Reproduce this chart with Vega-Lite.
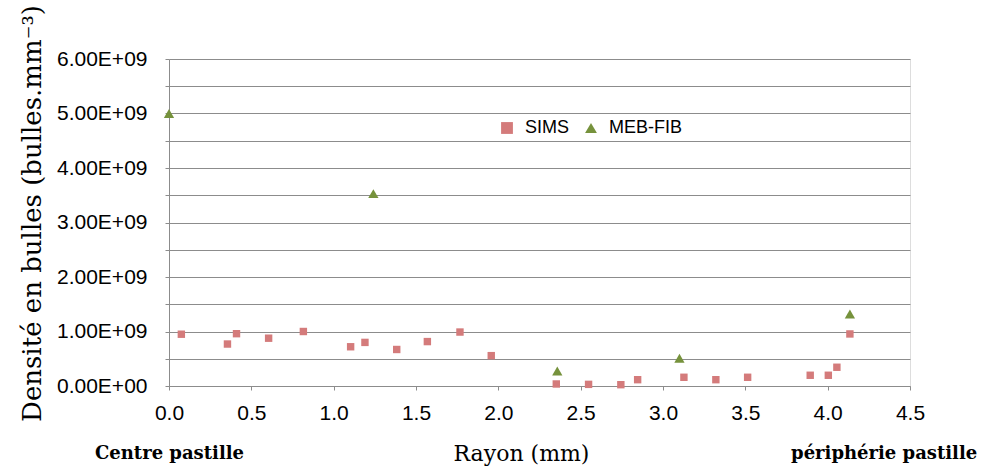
{
  "$schema": "https://vega.github.io/schema/vega-lite/v6.json",
  "width": 741,
  "height": 327,
  "autosize": {"type": "none"},
  "padding": {"left": 169, "top": 59, "right": 85, "bottom": 84},
  "background": "white",
  "data": {
    "values": [
      {"r": 0.075, "density": 0.95e9, "series": "SIMS"},
      {"r": 0.355, "density": 0.77e9, "series": "SIMS"},
      {"r": 0.41, "density": 0.96e9, "series": "SIMS"},
      {"r": 0.605, "density": 0.877e9, "series": "SIMS"},
      {"r": 0.816, "density": 1.0e9, "series": "SIMS"},
      {"r": 1.103, "density": 0.72e9, "series": "SIMS"},
      {"r": 1.19, "density": 0.80e9, "series": "SIMS"},
      {"r": 1.383, "density": 0.67e9, "series": "SIMS"},
      {"r": 1.569, "density": 0.815e9, "series": "SIMS"},
      {"r": 1.767, "density": 0.99e9, "series": "SIMS"},
      {"r": 1.957, "density": 0.557e9, "series": "SIMS"},
      {"r": 2.352, "density": 0.037e9, "series": "SIMS"},
      {"r": 2.548, "density": 0.03e9, "series": "SIMS"},
      {"r": 2.744, "density": 0.024e9, "series": "SIMS"},
      {"r": 2.846, "density": 0.116e9, "series": "SIMS"},
      {"r": 3.127, "density": 0.16e9, "series": "SIMS"},
      {"r": 3.321, "density": 0.116e9, "series": "SIMS"},
      {"r": 3.514, "density": 0.16e9, "series": "SIMS"},
      {"r": 3.894, "density": 0.197e9, "series": "SIMS"},
      {"r": 4.004, "density": 0.197e9, "series": "SIMS"},
      {"r": 4.056, "density": 0.344e9, "series": "SIMS"},
      {"r": 4.135, "density": 0.955e9, "series": "SIMS"},
      {"r": 0.0, "density": 5.0e9, "series": "MEB-FIB"},
      {"r": 1.241, "density": 3.53e9, "series": "MEB-FIB"},
      {"r": 2.358, "density": 0.276e9, "series": "MEB-FIB"},
      {"r": 3.10, "density": 0.51e9, "series": "MEB-FIB"},
      {"r": 4.135, "density": 1.32e9, "series": "MEB-FIB"}
    ]
  },
  "resolve": {"axis": {"x": "independent"}},
  "encoding": {
    "y": {
      "field": "density", "type": "quantitative",
      "scale": {"domain": [0, 6e9], "nice": false},
      "axis": {
        "values": [0, 5e8, 1e9, 1.5e9, 2e9, 2.5e9, 3e9, 3.5e9, 4e9, 4.5e9, 5e9, 5.5e9, 6e9],
        "labelExpr": "datum.value == 0 ? '0.00E+00' : (datum.value % 1e9 == 0 ? format(datum.value / 1e9, '.2f') + 'E+09' : '')",
        "grid": true, "gridColor": "#8c8c8c", "gridWidth": 1,
        "domain": true, "domainColor": "#8c8c8c",
        "ticks": true, "tickSize": 4, "tickColor": "#8c8c8c",
        "labelFont": "Liberation Sans", "labelFontSize": 21, "labelColor": "#000000",
        "labelPadding": 18, "labelFlush": false, "labelOverlap": false,
        "title": "Densité en bulles (bulles.mm⁻³)",
        "titleFont": "DejaVu Serif", "titleFontSize": 26, "titleFontWeight": "normal", "titleColor": "#000000",
        "titleX": -137, "titleY": 154, "titleAngle": -90, "titleBaseline": "middle", "titleAlign": "center",
        "titleLimit": 0
      }
    },
    "color": {
      "field": "series", "type": "nominal",
      "scale": {"domain": ["SIMS", "MEB-FIB"], "range": ["#D47B7B", "#76923C"]},
      "legend": {
        "title": null, "orient": "none", "direction": "horizontal",
        "legendX": 329, "legendY": 60,
        "symbolSize": 140, "symbolOpacity": 1, "symbolStrokeWidth": 0,
        "labelFont": "Liberation Sans", "labelFontSize": 18, "labelColor": "#000000",
        "labelOffset": 9, "columnPadding": 12
      }
    },
    "shape": {
      "field": "series", "type": "nominal",
      "scale": {"domain": ["SIMS", "MEB-FIB"], "range": ["square", "triangle-up"]}
    }
  },
  "layer": [
    {
      "transform": [{"filter": "datum.series == 'SIMS'"}],
      "mark": {"type": "point", "filled": true, "opacity": 1, "size": 55, "clip": false},
      "encoding": {
        "x": {
          "field": "r", "type": "quantitative",
          "scale": {"domain": [0, 4.5], "nice": false, "zero": false},
          "axis": {
            "orient": "bottom",
            "values": [0, 0.5, 1, 1.5, 2, 2.5, 3, 3.5, 4, 4.5],
            "format": ".1f",
            "grid": false,
            "domain": true, "domainColor": "#8c8c8c", "domainWidth": 1,
            "ticks": true, "tickSize": 4, "tickColor": "#8c8c8c",
            "labelFont": "Liberation Sans", "labelFontSize": 21, "labelColor": "#000000",
            "labelPadding": 12, "labelFlush": false,
            "title": "Rayon (mm)",
            "titleFont": "DejaVu Serif", "titleFontSize": 22, "titleFontWeight": "normal", "titleColor": "#000000",
            "titleX": 352, "titleY": 67, "titleBaseline": "middle", "titleAlign": "center"
          }
        }
      }
    },
    {
      "transform": [{"filter": "datum.series == 'MEB-FIB'"}],
      "mark": {"type": "point", "filled": true, "opacity": 1, "size": 105, "clip": false},
      "encoding": {
        "x": {
          "field": "r", "type": "quantitative",
          "axis": {
            "orient": "bottom",
            "values": [0, 4.34],
            "labelExpr": "datum.value == 0 ? 'Centre pastille' : 'périphérie pastille'",
            "grid": false, "domain": false, "ticks": false, "tickSize": 0,
            "labelFont": "DejaVu Serif", "labelFontSize": 18, "labelFontWeight": "bold", "labelColor": "#000000",
            "labelPadding": 67, "labelBaseline": "middle", "labelAlign": "center", "labelFlush": false,
            "labelLimit": 0, "labelOverlap": false,
            "title": null
          }
        }
      }
    }
  ]
}
